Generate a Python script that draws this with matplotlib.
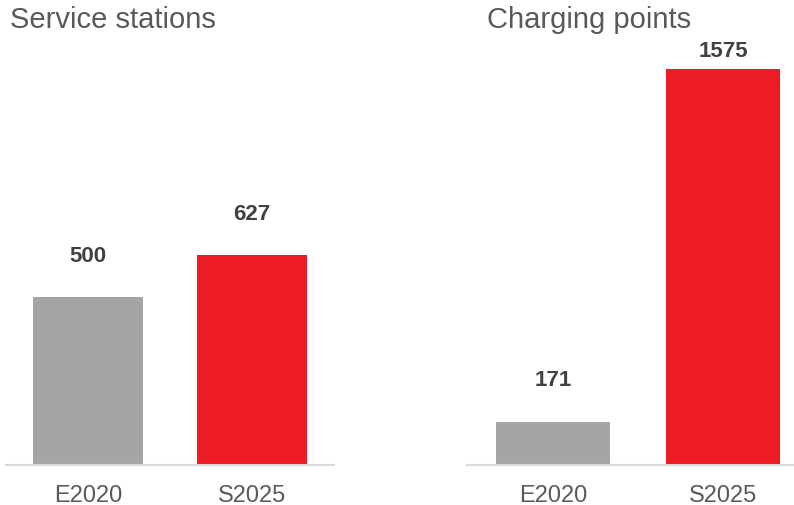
import matplotlib.pyplot as plt

plt.rcParams['font.family'] = ['Liberation Sans', 'DejaVu Sans']

# Data
categories = ['E2020', 'S2025']
stations = [500, 627]
charging = [171, 1575]
colors = ['#a5a5a5', '#ed1c24']

fig = plt.figure(figsize=(7.94, 5.06), dpi=100)

# axes placed to match the reference layout
ax1 = fig.add_axes([6 / 794, 1 - 465.5 / 506, 328 / 794, 395.5 / 506])
ax2 = fig.add_axes([467 / 794, 1 - 465.5 / 506, 327 / 794, 395.5 / 506])


def draw(ax, values, ymax, xlim, offsets):
    x = range(len(categories))
    bars = ax.bar(x, values, width=0.67, color=colors, zorder=2)
    ax.set_xlim(*xlim)
    ax.set_ylim(0, ymax)
    ax.set_xticks(list(x))
    ax.set_xticklabels(categories, fontsize=17, color='#595959')
    ax.tick_params(axis='x', length=0, pad=14)
    ax.set_yticks([])
    for s in ['top', 'right', 'left']:
        ax.spines[s].set_visible(False)
    ax.spines['bottom'].set_color('#d9d9d9')
    ax.spines['bottom'].set_linewidth(1.5)
    for b, v, off in zip(bars, values, offsets):
        ax.annotate(str(v), (b.get_x() + b.get_width() / 2, v),
                    xytext=(0, off), textcoords='offset points',
                    ha='center', va='center', fontsize=16,
                    fontweight='bold', color='#404040')


draw(ax1, stations, 1184, (-0.5, 1.5), [30, 30])
draw(ax2, charging, 1576, (-0.506, 1.418), [30, 13.5])

fig.text(10 / 794, 1 - 20 / 506, 'Service stations', fontsize=21,
         color='#595959', ha='left', va='center')
fig.text(487 / 794, 1 - 20 / 506, 'Charging points', fontsize=21,
         color='#595959', ha='left', va='center')

fig.savefig('out.png', dpi=100)
